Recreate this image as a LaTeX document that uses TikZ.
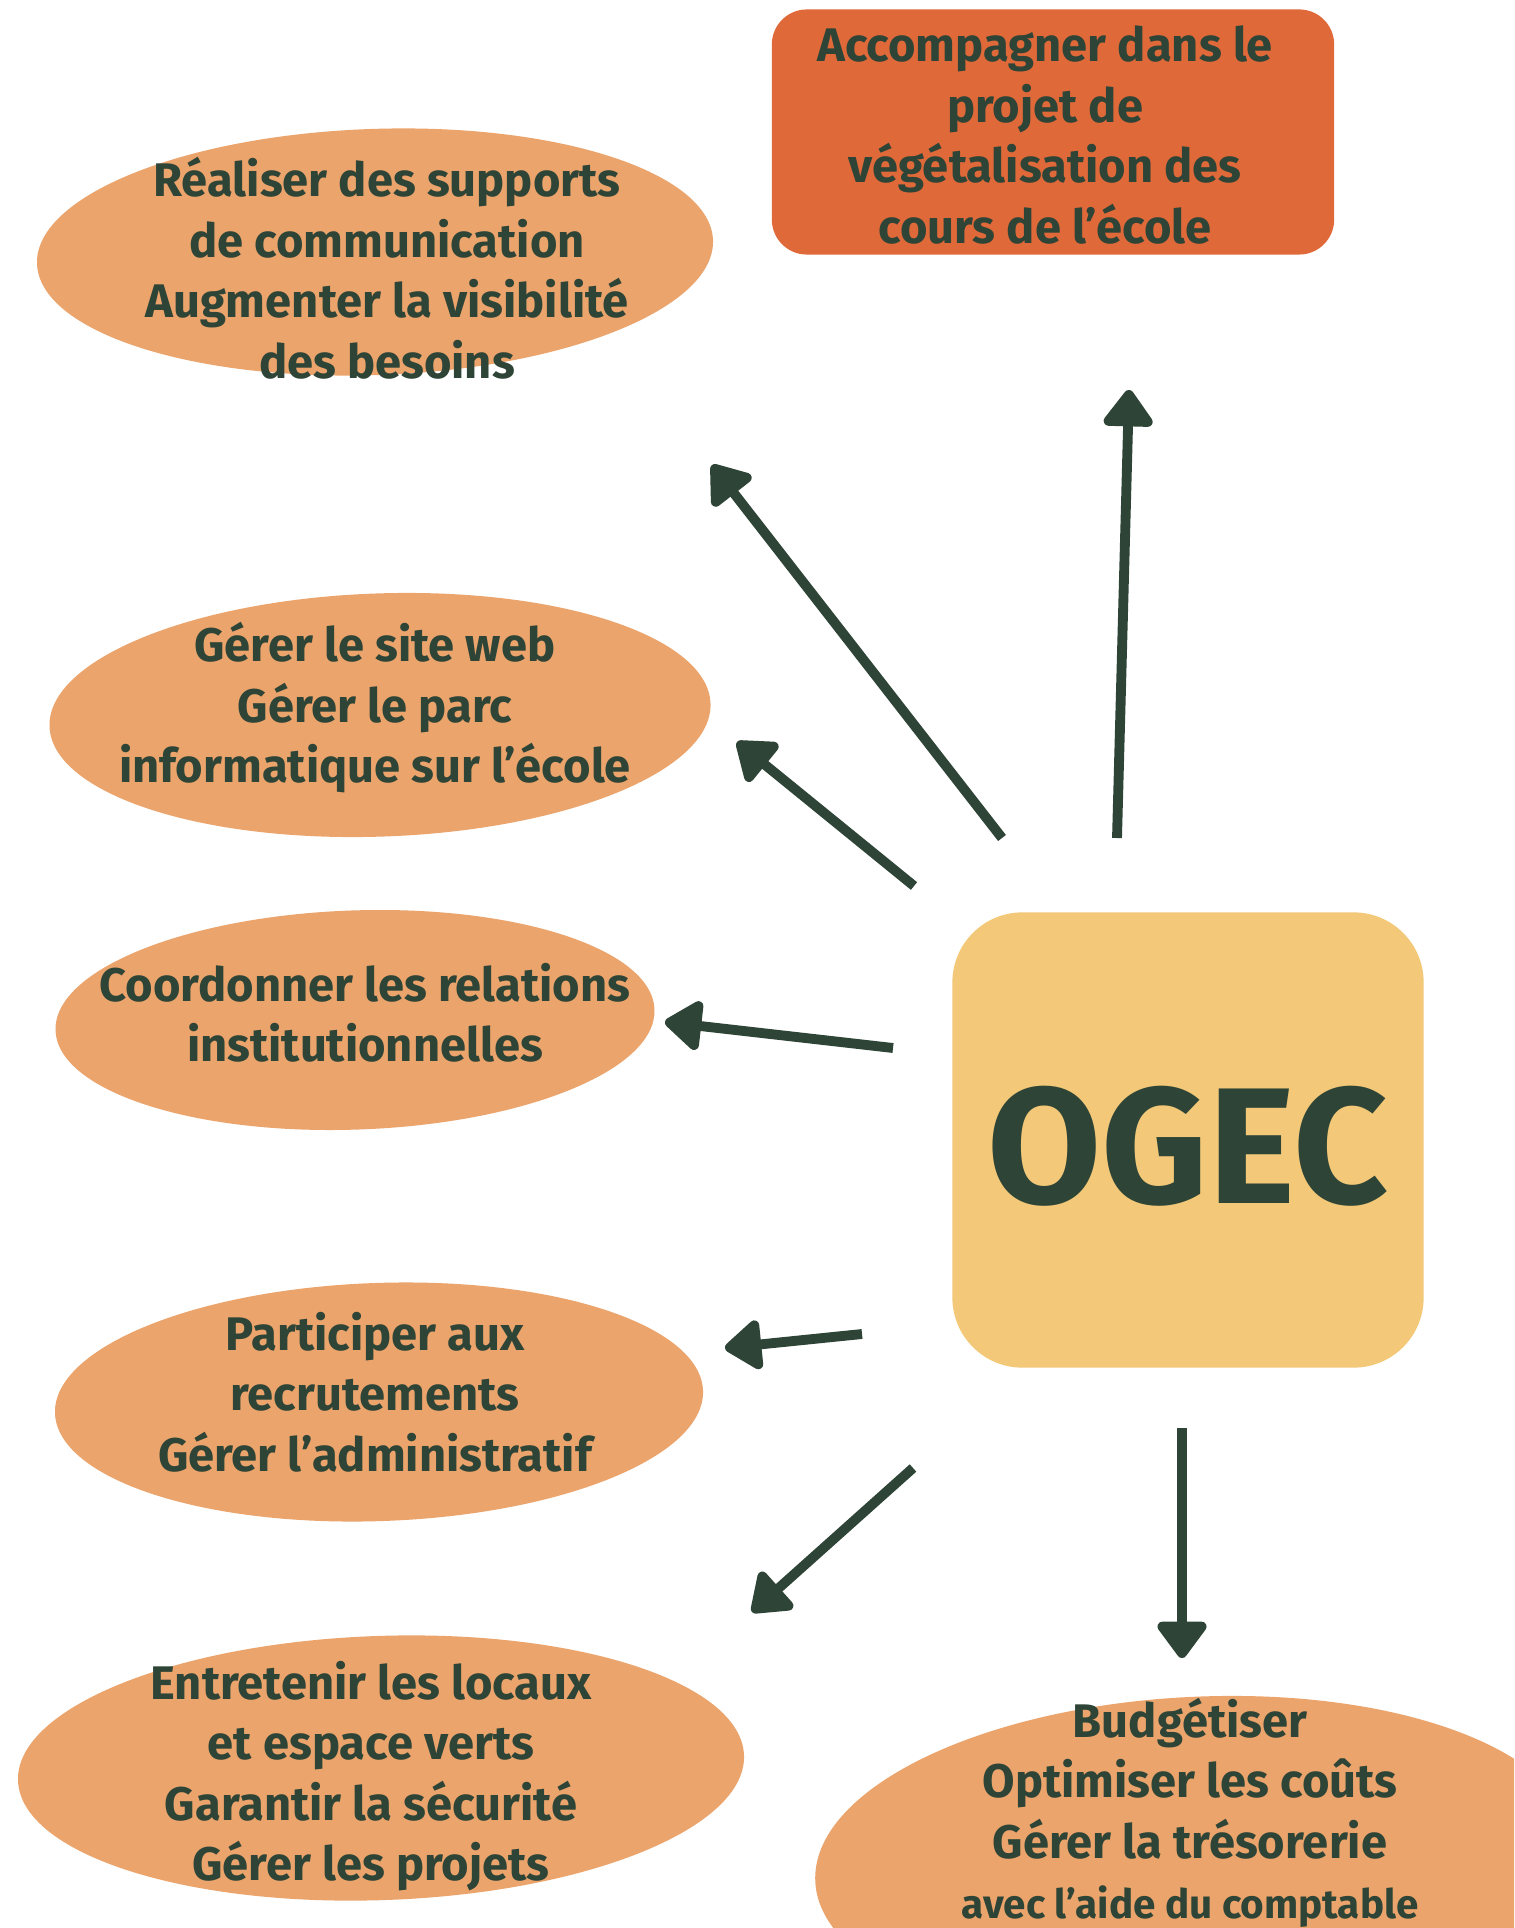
\documentclass[tikz,border=0pt]{standalone}
\usepackage{fontspec}
\setmainfont{Fira Sans}
\usetikzlibrary{arrows.meta,shapes.geometric}

\definecolor{ink}{HTML}{2E4436}
\definecolor{peach}{HTML}{EBA46C}
\definecolor{rust}{HTML}{E0693A}
\definecolor{sand}{HTML}{F3C979}

\begin{document}
\begin{tikzpicture}[
    x=0.01cm, y=-0.01cm,
    blob/.style={ellipse, fill=peach, inner sep=0pt},
    card/.style={rectangle, fill=rust, rounded corners=0.35cm, inner sep=0pt},
    hub/.style={rectangle, fill=sand, rounded corners=0.7cm, inner sep=0pt},
    txt/.style={text=ink, align=center, font=\fontsize{13.4}{17.2}\selectfont\bfseries},
    arrow/.style={-{Triangle[length=4mm, width=5.6mm, round]}, line width=2.8pt, draw=ink}
]
\clip (0,0) rectangle (1514,1928);
\fill[white] (0,0) rectangle (1514,1928);

% shapes
\node[hub, minimum width=4.71cm, minimum height=4.55cm] (ogec) at (1188,1140) {};
\node[card, minimum width=5.62cm, minimum height=2.45cm] (veg) at (1053,132) {};
\node[blob, minimum width=6.76cm, minimum height=2.46cm, rotate=2] (com) at (375,252) {};
\node[blob, minimum width=6.61cm, minimum height=2.43cm, rotate=2] (web) at (380,715) {};
\node[blob, minimum width=5.99cm, minimum height=2.19cm, rotate=2] (inst) at (355,1020) {};
\node[blob, minimum width=6.48cm, minimum height=2.38cm, rotate=2] (recr) at (379,1402) {};
\node[blob, minimum width=7.26cm, minimum height=2.64cm, rotate=2] (loc) at (381,1768) {};
\node[blob, minimum width=7.6cm, minimum height=3.3cm, rotate=3] (budg) at (1195,1862) {};

% texts
\node[text=ink, font=\fontsize{47}{50}\bfseries] (ogec-txt) at (1188,1146) {OGEC};
\node[txt] (veg-txt) at (1045,135) {Accompagner dans le\\projet de\\végétalisation des\\cours de l’école};
\node[txt] (com-txt) at (387,268) {Réaliser des supports\\de communication\\Augmenter la visibilité\\des besoins};
\node[txt] (web-txt) at (375,708) {Gérer le site web\\Gérer le parc\\informatique sur l’école};
\node[txt] (inst-txt) at (365,1013) {Coordonner les relations\\institutionnelles};
\node[txt] (recr-txt) at (375,1392) {Participer aux\\recrutements\\Gérer l’administratif};
\node[txt] (loc-txt) at (371,1776) {Entretenir les locaux\\et espace verts\\Garantir la sécurité\\Gérer les projets};
\node[txt] (budg-txt) at (1190,1813) {Budgétiser\\Optimiser les coûts\\Gérer la trésorerie\\{\fontsize{11.5}{14}\selectfont avec l’aide du comptable}};

% arrow ends
\coordinate (o-veg) at (1117,838);   \coordinate (to-veg) at (1129,390);
\coordinate (o-com) at (1002,838);   \coordinate (to-com) at (712,465);
\coordinate (o-web) at (914,886);    \coordinate (to-web) at (737,742);
\coordinate (o-inst) at (893,1048);  \coordinate (to-inst) at (665,1022);
\coordinate (o-recr) at (862,1334);  \coordinate (to-recr) at (725,1348);
\coordinate (o-loc) at (913,1468);   \coordinate (to-loc) at (752,1612);
\coordinate (o-budg) at (1182,1428); \coordinate (to-budg) at (1182,1658);

\draw[arrow] (o-veg) -- (to-veg);
\draw[arrow] (o-com) -- (to-com);
\draw[arrow] (o-web) -- (to-web);
\draw[arrow] (o-inst) -- (to-inst);
\draw[arrow] (o-recr) -- (to-recr);
\draw[arrow] (o-loc) -- (to-loc);
\draw[arrow] (o-budg) -- (to-budg);
\end{tikzpicture}
\end{document}
